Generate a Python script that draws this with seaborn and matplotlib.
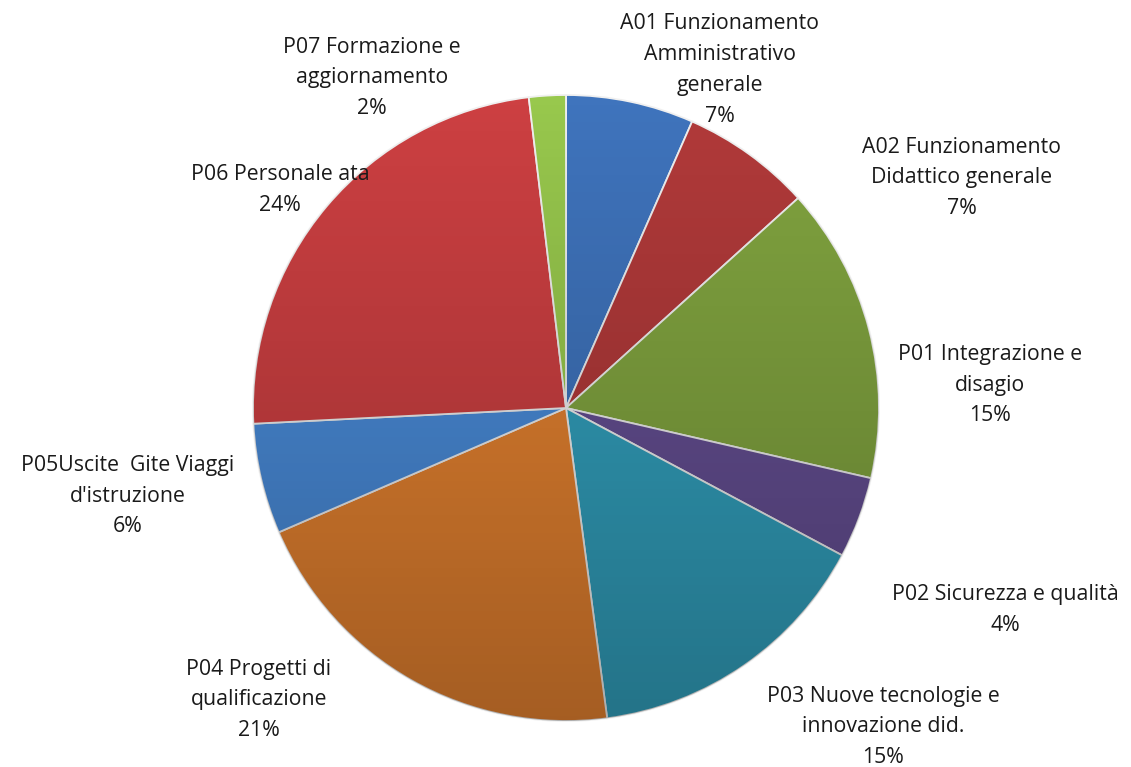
import matplotlib
matplotlib.use("Agg")
import matplotlib.pyplot as plt
import numpy as np
import seaborn as sns
from matplotlib.patches import Circle

# voci di spesa (quota percentuale)
labels = [
    "A01 Funzionamento\nAmministrativo\ngenerale",
    "A02 Funzionamento\nDidattico generale",
    "P01 Integrazione e\ndisagio",
    "P02 Sicurezza e qualità",
    "P03 Nuove tecnologie e\ninnovazione did.",
    "P04 Progetti di\nqualificazione",
    "P05Uscite  Gite Viaggi\nd'istruzione",
    "P06 Personale ata",
    "P07 Formazione e\naggiornamento",
]
values = [6.6, 6.7, 15.3, 4.2, 15.1, 20.6, 5.7, 23.9, 1.9]
colors = ["#3f74bd", "#b23a3a", "#82a540", "#654f93", "#32a0bd",
          "#e58230", "#4a8cda", "#cd4042", "#98c84d"]

# posizione delle etichette (pixel, origine in alto a sinistra)
label_pos = [(720, 70), (962, 178), (990, 385), (1005, 610), (883, 727),
             (259, 700), (128, 496), (280, 190), (372, 78)]

sns.set_theme(style="white")
plt.rcParams["font.family"] = ["Open Sans", "DejaVu Sans"]

W, H = 1131, 767
cx, cy, r = 566, H - 408, 313
fig = plt.figure(figsize=(W / 100, H / 100), dpi=100)
ax = fig.add_axes([0, 0, 1, 1])

ax.pie(values, colors=colors, startangle=90, counterclock=False,
       center=(cx, cy), radius=r,
       wedgeprops=dict(edgecolor="#f0f0f0", linewidth=1.3))

# leggera ombra verticale (effetto rilievo)
shade = np.zeros((256, 1, 4))
shade[:, 0, 3] = np.linspace(0.0, 0.28, 256)
img = ax.imshow(shade, extent=(cx - r, cx + r, cy - r, cy + r),
                origin="upper", zorder=5, aspect="auto")
img.set_clip_path(Circle((cx, cy), r, transform=ax.transData))

ax.set_xlim(0, W)
ax.set_ylim(0, H)
ax.set_aspect("equal")
ax.axis("off")

total = sum(values)
for lab, v, (x, y) in zip(labels, values, label_pos):
    pct = f"{round(v / total * 100):.0f}%"
    ax.text(x, H - y, f"{lab}\n{pct}", ha="center", va="center",
            fontsize=15.3, linespacing=1.62, color="#1a1a1a", zorder=10)

fig.savefig("out.png", dpi=100)
